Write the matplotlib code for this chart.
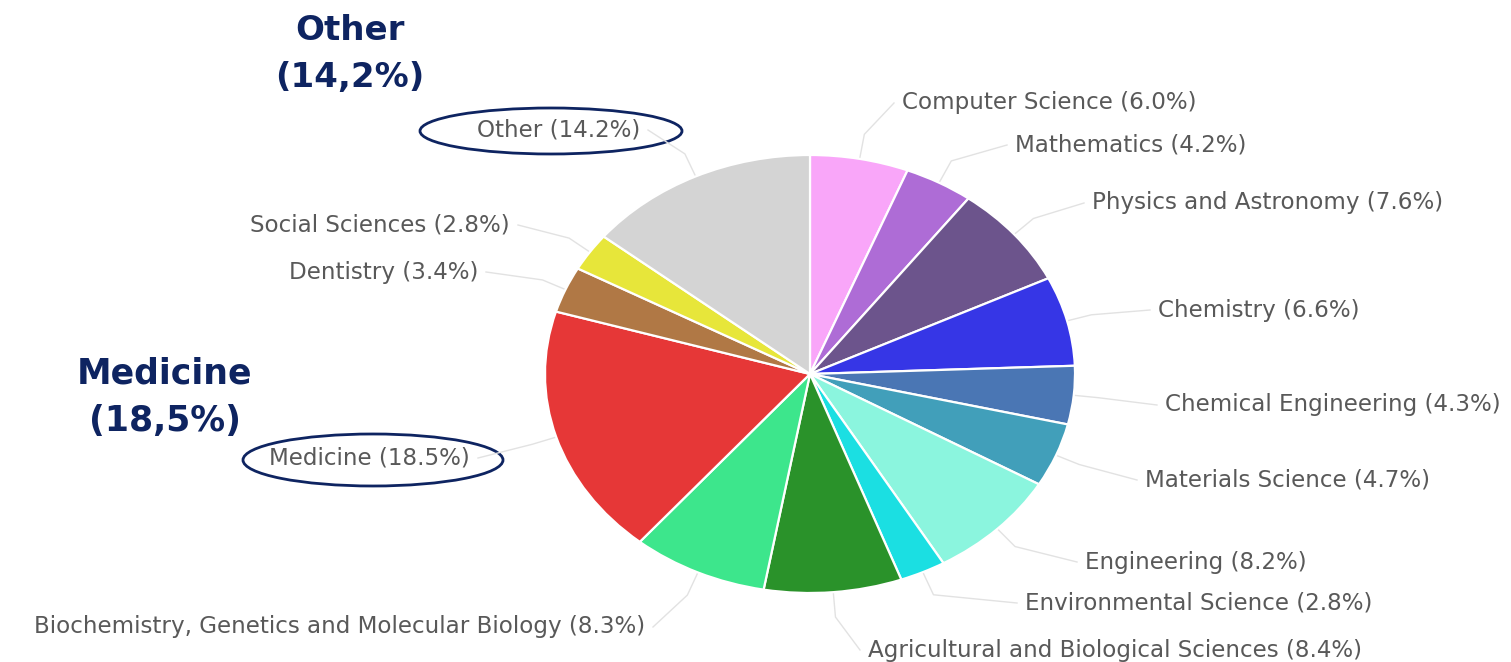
import numpy as np
import matplotlib
matplotlib.use("Agg")
import matplotlib.pyplot as plt
from matplotlib.patches import Ellipse

# data
subjects = ["Computer Science", "Mathematics", "Physics and Astronomy", "Chemistry",
            "Chemical Engineering", "Materials Science", "Engineering",
            "Environmental Science", "Agricultural and Biological Sciences",
            "Biochemistry, Genetics and Molecular Biology", "Medicine", "Dentistry",
            "Social Sciences", "Other"]
shares = [6.0, 4.2, 7.6, 6.6, 4.3, 4.7, 8.2, 2.8, 8.4, 8.3, 18.5, 3.4, 2.8, 14.2]
colors = ["#F9A6F9", "#AE6CD6", "#6C548C", "#3636E6", "#4A76B4", "#419FBA",
          "#8BF5DE", "#1BDFE2", "#2A922A", "#3DE68C", "#E63737", "#B07845",
          "#E7E63A", "#D4D4D4"]
callouts = [("Other\n(14,2%)", "Other"), ("Medicine\n(18,5%)", "Medicine")]

# label layout (pixel coords: x, y, horizontal alignment)
label_pos = [(902, 103, "left"), (1015, 145, "left"), (1092, 203, "left"),
             (1158, 310, "left"), (1165, 405, "left"), (1145, 480, "left"),
             (1085, 562, "left"), (1025, 603, "left"), (868, 650, "left"),
             (645, 627, "right"), (470, 458, "right"), (478, 272, "right"),
             (510, 225, "right"), (640, 130, "right")]

W, H = 1511, 662
cx, cy, rx, ry = 810, 374, 265, 219
navy = "#0E2461"

fig = plt.figure(figsize=(W / 100, H / 100), dpi=100)
fig.patch.set_facecolor("white")

# pie axes stretched to the ellipse box
pax = fig.add_axes([(cx - rx) / W, (H - cy - ry) / H, 2 * rx / W, 2 * ry / H])
pax.pie(shares, colors=colors, startangle=90, counterclock=False, radius=1,
        wedgeprops=dict(edgecolor="white", linewidth=1.6))
pax.set_aspect("auto")
pax.set_xlim(-1, 1)
pax.set_ylim(-1, 1)
pax.axis("off")

# overlay axes in pixel coords
ax = fig.add_axes([0, 0, 1, 1], zorder=-1)
ax.set_xlim(0, W)
ax.set_ylim(H, 0)
ax.axis("off")

cum = np.cumsum([0] + shares)
for i, name in enumerate(subjects):
    mid = np.deg2rad(90 - 3.6 * (cum[i] + shares[i] / 2))
    x0 = cx + rx * np.cos(mid)
    y0 = cy - ry * np.sin(mid)
    lx, ly, ha = label_pos[i]
    ex = lx - 8 if ha == "left" else lx + 8
    x1 = cx + (rx + 25) * np.cos(mid)
    y1 = cy - (ry + 25) * np.sin(mid)
    ax.plot([x0, x1, ex], [y0, y1, ly], color="#E2E2E2", lw=1)
    ax.text(lx, ly, f"{name} ({shares[i]:.1f}%)", ha=ha, va="center",
            fontsize=16.6, color="#595959", family="DejaVu Sans")

# callouts
ax.text(350, 54, callouts[0][0], ha="center", va="center", fontsize=24.5,
        fontweight="bold", color=navy, linespacing=1.5, family="DejaVu Sans")
ax.text(165, 397, callouts[1][0], ha="center", va="center", fontsize=25,
        fontweight="bold", color=navy, linespacing=1.5, family="DejaVu Sans")
ax.add_patch(Ellipse((551, 131), 262, 46, fill=False, edgecolor=navy, lw=2))
ax.add_patch(Ellipse((373, 460), 260, 52, fill=False, edgecolor=navy, lw=2))

fig.savefig("out.png", dpi=100)
